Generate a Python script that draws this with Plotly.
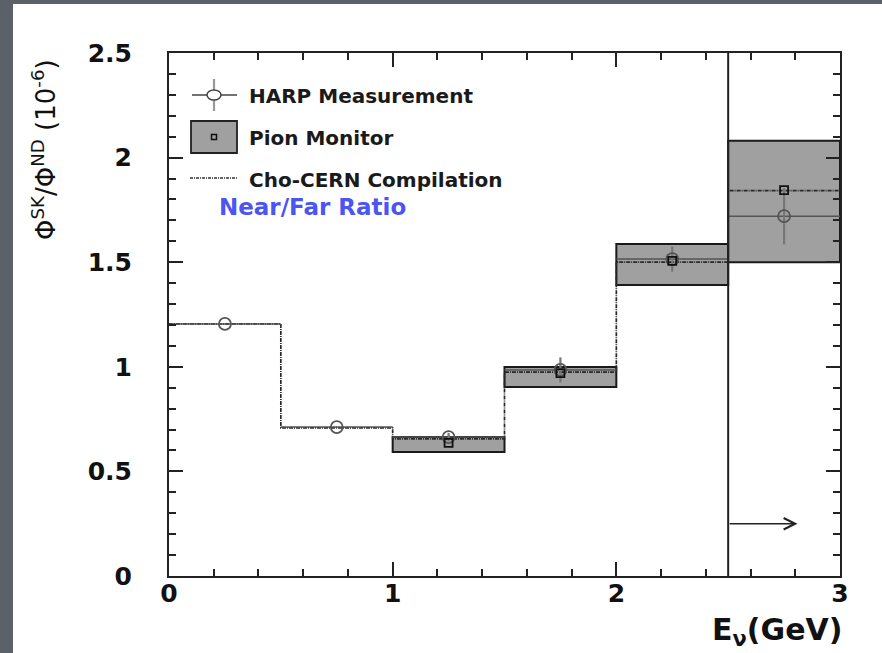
import plotly.graph_objects as go

# Energy binning (GeV)
bin_edges = [0.0, 0.5, 1.0, 1.5, 2.0, 2.5, 3.0]
bin_centers = [0.25, 0.75, 1.25, 1.75, 2.25, 2.75]

# HARP far/near flux ratio (x 1e-6) with errors
harp_ratio = [1.205, 0.712, 0.664, 0.985, 1.515, 1.72]
harp_err = [0.0, 0.0, 0.02, 0.06, 0.06, 0.135]

# Pion monitor measurement (bins from 1 GeV upward)
pion_centers = [1.25, 1.75, 2.25, 2.75]
pion_ratio = [0.636, 0.970, 1.506, 1.845]
pion_low = [0.593, 0.903, 1.391, 1.500]
pion_high = [0.664, 0.999, 1.587, 2.080]

# Cho-CERN compilation (one value per bin)
cho_ratio = [1.205, 0.708, 0.655, 0.975, 1.500, 1.842]

y_ticks = [0, 0.5, 1, 1.5, 2, 2.5]
y_ticktext = ["0", "0.5", "1", "1.5", "2", "2.5"]
x_ticks = [0, 1, 2, 3]
x_ticktext = ["0", "1", "2", "3"]

W, H = 882, 653
L, R, T, B = 169, 42, 53, 77
PW, PH = W - L - R, H - T - B


def px(x):
    return (x - L) / PW


def py(y):
    return (H - B - y) / PH


fig = go.Figure()

# Pion monitor uncertainty boxes
fig.add_trace(go.Bar(
    x=pion_centers,
    y=[h - l for h, l in zip(pion_high, pion_low)],
    base=pion_low,
    width=0.5,
    marker=dict(color="#a0a0a0", line=dict(color="#1a1a1a", width=2)),
    showlegend=False,
    hoverinfo="skip",
))

# Cho-CERN compilation as a step histogram
fig.add_trace(go.Scatter(
    x=bin_edges,
    y=cho_ratio + [cho_ratio[-1]],
    mode="lines",
    line=dict(shape="hv", color="#2a2a2a", width=1.7, dash="4px,1px,1px,1px"),
    showlegend=False,
    hoverinfo="skip",
))

# HARP horizontal bin-width bars
fig.add_trace(go.Scatter(
    x=bin_centers,
    y=harp_ratio,
    mode="markers",
    marker=dict(size=1, color="rgba(0,0,0,0)"),
    error_x=dict(type="constant", value=0.25, color="#555555", thickness=1.5, width=0),
    showlegend=False,
    hoverinfo="skip",
))

# HARP measurement points with vertical errors
fig.add_trace(go.Scatter(
    x=bin_centers,
    y=harp_ratio,
    mode="markers",
    marker=dict(symbol="circle-open", size=12, color="#555555", line=dict(width=1.8)),
    error_y=dict(type="data", array=harp_err, color="#777777", thickness=2.2, width=0),
    showlegend=False,
))

# Pion monitor central values
fig.add_trace(go.Scatter(
    x=pion_centers,
    y=pion_ratio,
    mode="markers",
    marker=dict(symbol="square-open", size=8, color="#111111", line=dict(width=1.8)),
    showlegend=False,
))

shapes = [
    # light page panel on the dark frame
    dict(type="rect", xref="paper", yref="paper", x0=px(13), x1=px(W + 5),
         y0=py(H + 5), y1=py(4), fillcolor="white", line=dict(width=0), layer="below"),
    # vertical boundary at 2.5 GeV
    dict(type="line", xref="x", yref="paper", x0=2.5, x1=2.5, y0=0, y1=1,
         line=dict(color="#222222", width=2)),
    # legend: HARP symbol
    dict(type="line", xref="paper", yref="paper", x0=px(192), x1=px(237), y0=py(95), y1=py(95),
         line=dict(color="#444444", width=1.5)),
    dict(type="line", xref="paper", yref="paper", x0=px(214), x1=px(214), y0=py(79), y1=py(111),
         line=dict(color="#999999", width=2.2)),
    dict(type="circle", xref="paper", yref="paper", x0=px(207), x1=px(221), y0=py(100), y1=py(90),
         fillcolor="white", line=dict(color="#444444", width=1.5)),
    # legend: Pion monitor symbol
    dict(type="rect", xref="paper", yref="paper", x0=px(191), x1=px(237), y0=py(153), y1=py(121),
         fillcolor="#a0a0a0", line=dict(color="#222222", width=1.8)),
    dict(type="rect", xref="paper", yref="paper", x0=px(211.5), x1=px(216.5), y0=py(139.5), y1=py(134.5),
         fillcolor="#a0a0a0", line=dict(color="#111111", width=1.5)),
    # legend: Cho-CERN symbol
    dict(type="line", xref="paper", yref="paper", x0=px(190), x1=px(237), y0=py(178), y1=py(178),
         line=dict(color="#333333", width=1.4, dash="3px,1px,1px,1px")),
]

legend_font = dict(family="DejaVu Sans", size=20, color="#1a1a1a", weight="bold")
annotations = [
    dict(text="HARP Measurement", x=px(247), y=py(96), xref="paper", yref="paper",
         xanchor="left", yanchor="middle", showarrow=False, font=legend_font),
    dict(text="Pion Monitor", x=px(247), y=py(138), xref="paper", yref="paper",
         xanchor="left", yanchor="middle", showarrow=False, font=legend_font),
    dict(text="Cho-CERN Compilation", x=px(247), y=py(180), xref="paper", yref="paper",
         xanchor="left", yanchor="middle", showarrow=False, font=legend_font),
    dict(text="Near/Far Ratio", x=px(217), y=py(207), xref="paper", yref="paper",
         xanchor="left", yanchor="middle", showarrow=False,
         font=dict(family="DejaVu Sans", size=23, color="#4b55f2", weight="bold")),
    # arrow pointing to higher energies
    dict(x=2.81, y=0.25, ax=2.5, ay=0.25, xref="x", yref="y", axref="x", ayref="y",
         text="", showarrow=True, arrowhead=5, arrowsize=1.6, arrowwidth=1.4,
         arrowcolor="#222222", standoff=0),
    # axis titles
    dict(text="E<sub>ν</sub>(GeV)", x=px(844), y=py(631), xref="paper", yref="paper",
         xanchor="right", yanchor="middle", showarrow=False,
         font=dict(family="DejaVu Sans", size=30, color="#111111", weight="bold")),
    dict(text="Φ<sup>SK</sup>/Φ<sup>ND</sup> (10<sup>-6</sup>)", x=px(44), y=py(150),
         xref="paper", yref="paper", xanchor="center", yanchor="middle", textangle=-90,
         showarrow=False, font=dict(family="DejaVu Sans", size=26, color="#111111")),
]

tick_font = dict(family="DejaVu Sans", size=25, color="#111111", weight="bold")

fig.update_layout(
    width=W, height=H,
    margin=dict(l=L, r=R, t=T, b=B),
    paper_bgcolor="#5b6069",
    plot_bgcolor="white",
    showlegend=False,
    barmode="overlay",
    shapes=shapes,
    annotations=annotations,
    xaxis=dict(
        range=[0, 3], tickvals=x_ticks, ticktext=x_ticktext,
        ticks="inside", ticklen=14, tickwidth=2, tickcolor="#222222",
        minor=dict(dtick=0.2, ticks="inside", ticklen=7, tickwidth=1.5, tickcolor="#222222"),
        showline=True, linecolor="#222222", linewidth=2, mirror="allticks",
        showgrid=False, zeroline=False, tickfont=tick_font, ticklabelstandoff=-6,
    ),
    yaxis=dict(
        range=[0, 2.5], tickvals=y_ticks, ticktext=y_ticktext,
        ticks="inside", ticklen=14, tickwidth=2, tickcolor="#222222",
        minor=dict(dtick=0.1, ticks="inside", ticklen=7, tickwidth=1.5, tickcolor="#222222"),
        showline=True, linecolor="#222222", linewidth=2, mirror="allticks",
        showgrid=False, zeroline=False, tickfont=tick_font, ticklabelstandoff=30,
    ),
)

fig.write_html("out.html")
